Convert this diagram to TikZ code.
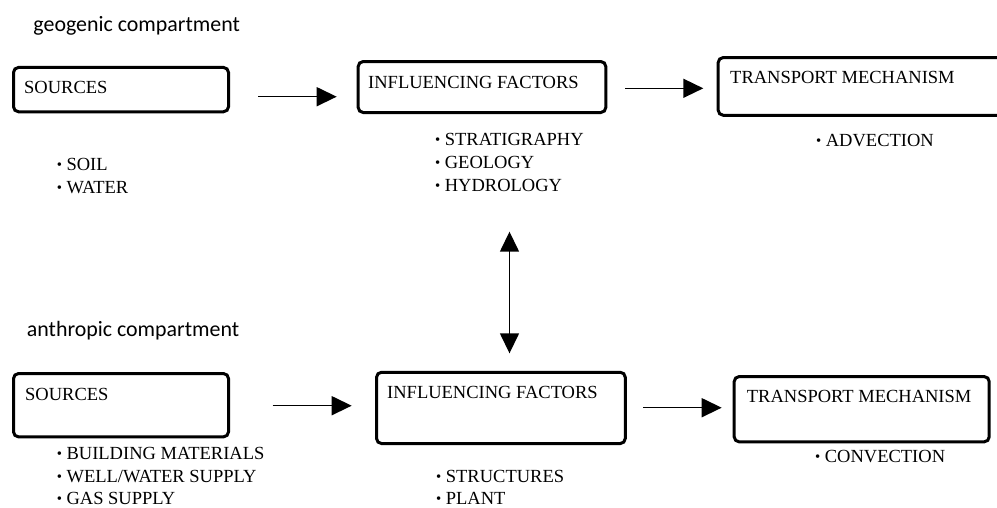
\documentclass[tikz,border=0pt]{standalone}
\usepackage{fontspec}
\setmainfont{Liberation Serif}
\newfontfamily\partfont{Carlito}
\usetikzlibrary{arrows.meta}

\newcommand{\bul}{\raisebox{0.9pt}{\scalebox{0.8}{\textbullet}}\hspace{4.5pt}}

\begin{document}
\begin{tikzpicture}[x=1pt, y=-1pt,
box/.style={draw, line width=3pt, rounded corners=5pt, inner sep=0pt},
title/.style={anchor=base west, inner sep=0pt, font=\fontsize{18.5}{22}\selectfont},
item/.style={anchor=base west, inner sep=0pt, font=\fontsize{18.5}{22}\selectfont},
part/.style={anchor=base west, inner sep=0pt, font=\partfont\fontsize{21.9}{26}\selectfont},
arr/.style={line width=1.5pt, -{Triangle[length=20pt,width=19pt]}},
darr/.style={line width=1.5pt, {Triangle[length=20pt,width=19pt]}-{Triangle[length=20pt,width=19pt]}}]
\useasboundingbox (0,0) rectangle (997,507);
\clip (0,0) rectangle (997,507);
% geogenic row
\node[part] (geo) at (33.3,31.7) {geogenic compartment};
\node[box, minimum width=215pt, minimum height=44.3pt] (gsrc) at (121,89.6) {};
\node[box, minimum width=247.6pt, minimum height=51pt] (ginf) at (482,87) {};
\node[box, minimum width=284.8pt, minimum height=57.7pt] (gtra) at (860.6,86.4) {};
\node[title] (gsrct) at (24,93.3) {SOURCES};
\node[title] (ginft) at (368,88.3) {INFLUENCING FACTORS};
\node[title] (gtrat) at (730,83.3) {TRANSPORT MECHANISM};
\node[item] (soil) at (56.7,170) {\bul SOIL};
\node[item] (water) at (56.7,193.3) {\bul WATER};
\node[item] (strat) at (435,145) {\bul STRATIGRAPHY};
\node[item] (geol) at (435,168.3) {\bul GEOLOGY};
\node[item] (hydro) at (435,191.7) {\bul HYDROLOGY};
\node[item] (advec) at (816,146.7) {\bul ADVECTION};
\coordinate (ga1) at (258.3,96.7);
\coordinate (ga2) at (336.7,96.7);
\coordinate (gb1) at (625,88.3);
\coordinate (gb2) at (703.3,88.3);
\draw[arr] (ga1) -- (ga2);
\draw[arr] (gb1) -- (gb2);
% link between rows
\coordinate (lk1) at (509.5,231.7);
\coordinate (lk2) at (509.5,353.3);
\draw[darr] (lk1) -- (lk2);
% anthropic row
\node[part] (anth) at (26.7,336.7) {anthropic compartment};
\node[box, minimum width=215pt, minimum height=63.3pt] (asrc) at (121,405.2) {};
\node[box, minimum width=248.7pt, minimum height=71.3pt] (ainf) at (500.9,407.9) {};
\node[box, minimum width=255pt, minimum height=65.3pt] (atra) at (861.7,409.2) {};
\node[title] (asrct) at (25,400.7) {SOURCES};
\node[title] (ainft) at (387,398) {INFLUENCING FACTORS};
\node[title] (atrat) at (746.7,402.7) {TRANSPORT MECHANISM};
\node[item] (build) at (56.7,459.5) {\bul BUILDING MATERIALS};
\node[item] (well) at (56.7,482) {\bul WELL/WATER SUPPLY};
\node[item] (gas) at (56.7,504.5) {\bul GAS SUPPLY};
\node[item] (struc) at (436,482) {\bul STRUCTURES};
\node[item] (plant) at (436,504.5) {\bul PLANT};
\node[item] (conv) at (815,462.7) {\bul CONVECTION};
\coordinate (aa1) at (272.7,405.7);
\coordinate (aa2) at (351.7,405.7);
\coordinate (ab1) at (643.3,407.7);
\coordinate (ab2) at (721.7,407.7);
\draw[arr] (aa1) -- (aa2);
\draw[arr] (ab1) -- (ab2);
\end{tikzpicture}
\end{document}
